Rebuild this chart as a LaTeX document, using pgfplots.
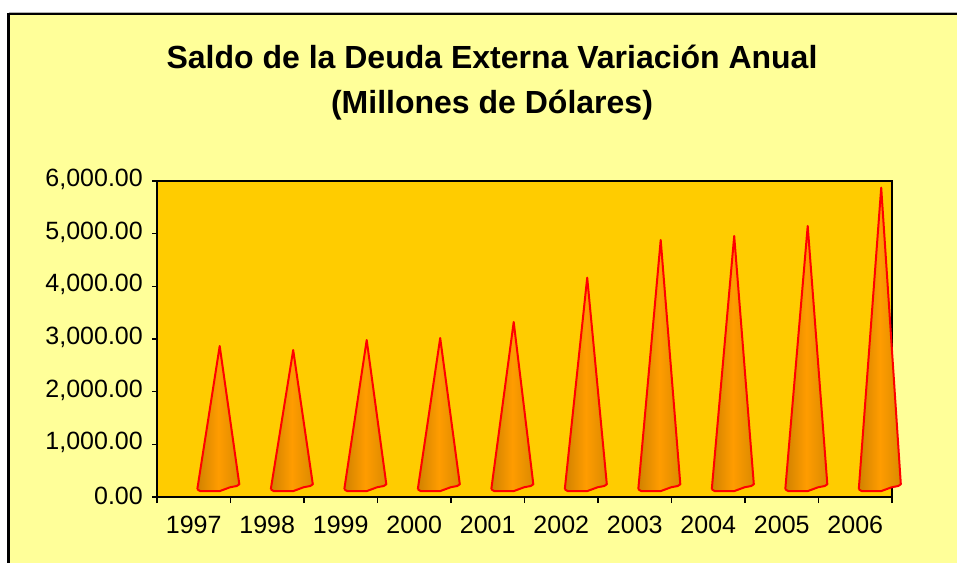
\documentclass[border=0pt]{standalone}
\usepackage{pgfplots}
\pgfplotsset{compat=1.18}
\usepackage{fontspec}
\setmainfont{Liberation Sans}
\definecolor{bgyellow}{HTML}{FFFF99}
\definecolor{plotgold}{HTML}{FFCC00}
\definecolor{coneA}{HTML}{D08200}
\definecolor{coneB}{HTML}{FF9C00}
\definecolor{coneC}{HTML}{DB8A00}
% cone for category #1 (integer index) with apex value #2
\newcommand\cone[2]{%
  \addplot[draw=red, line width=2pt, line join=round, left color=coneA, right color=coneC, middle color=coneB]
    coordinates {(#1.048,146) (#1.085,114) (#1.357,114) (#1.493,184) (#1.584,209) (#1.620,241) (#1.353,#2) (#1.048,146)};
}
\begin{document}
\begin{tikzpicture}
\useasboundingbox (0pt,0pt) rectangle (957pt,-562pt);
\fill[white] (0pt,0pt) rectangle (957pt,-562pt);
\draw[gray!60, line width=1pt] (8.5pt,-12pt) -- (957pt,-12pt);
\draw[line width=2.2pt, fill=bgyellow] (8.5pt,-13.8pt) rectangle (1000pt,-600pt);
\node[font=\fontsize{32}{38}\selectfont\bfseries, anchor=base, inner sep=0pt] at (492pt,-68pt) {Saldo de la Deuda Externa Variación Anual};
\node[font=\fontsize{32}{38}\selectfont\bfseries, anchor=base, inner sep=0pt] at (492pt,-113pt) {(Millones de Dólares)};
\begin{axis}[
  at={(157pt,-497pt)}, anchor=south west,
  scale only axis, width=735pt, height=316pt,
  xmin=-0.5, xmax=9.5, ymin=0, ymax=6000,
  clip=false,
  axis background/.style={fill=plotgold},
  axis line style={line width=2pt, black},
  xtick={0,...,9},
  xticklabels={1997,1998,1999,2000,2001,2002,2003,2004,2005,2006},
  minor xtick={-0.5,0.5,...,9.5},
  major x tick style={draw=none},
  ytick={0,1000,...,6000},
  xtick pos=bottom, ytick pos=left,
  tick align=outside,
  major tick length=5pt, minor tick length=6pt,
  tick style={black, line width=1.5pt},
  ticklabel style={font=\fontsize{25}{30}\selectfont},
  yticklabel={\pgfmathprintnumber[fixed, fixed zerofill, precision=2, 1000 sep={,}, assume math mode=true]{\tick}},
  yticklabel style={anchor=east, inner sep=0pt, xshift=-9pt, yshift=1.5pt},
  xticklabel style={anchor=north, inner sep=0pt, yshift=-14pt},
]
\cone{0}{2867}
\cone{1}{2791}
\cone{2}{2981}
\cone{3}{3019}
\cone{4}{3323}
\cone{5}{4165}
\cone{6}{4880}
\cone{7}{4956}
\cone{8}{5146}
\cone{9}{5874}
\end{axis}
\end{tikzpicture}
\end{document}
